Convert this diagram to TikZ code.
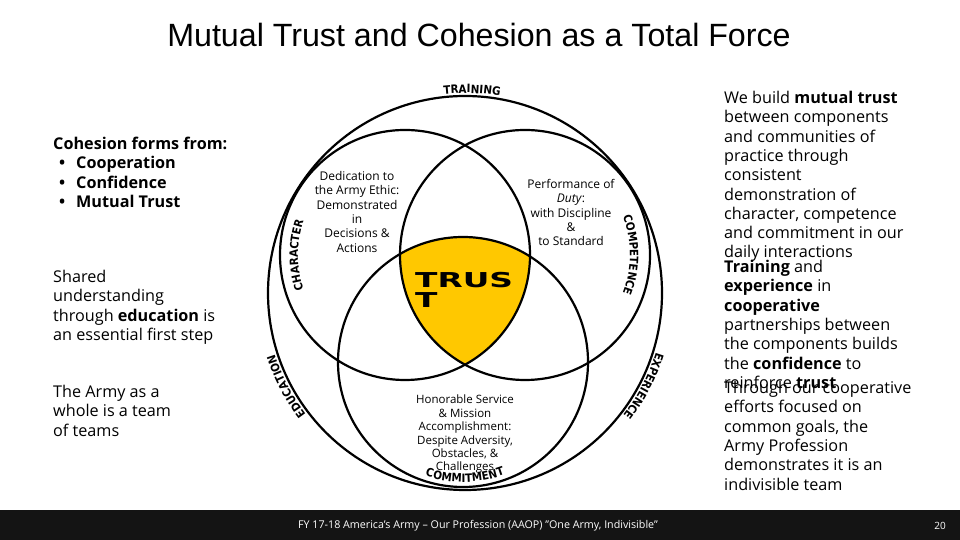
\documentclass[tikz,border=0pt]{standalone}
\usepackage{fontspec}
\setmainfont{Open Sans}
\newfontfamily\titlefont{Liberation Sans}
\newfontfamily\labelfont{DejaVu Sans Condensed}
\newfontfamily\trustfont{DejaVu Sans}
\usepackage{xcolor}
\usepackage{tikz}
\usetikzlibrary{decorations.text}
\definecolor{trustyellow}{RGB}{255,200,0}
\definecolor{footerbg}{RGB}{20,20,20}
\newcommand{\circlabel}{\labelfont\bfseries\fontsize{11.5}{11.5}\selectfont}
\newcommand{\cohitem}[1]{\makebox[23pt][l]{\hspace*{6pt}•}#1}

\begin{document}
\begin{tikzpicture}[x=1pt, y=1pt,
  ring/.style={draw, line width=2.2pt},
  bodytext/.style={font=\fontsize{16.2}{19.3}\selectfont, align=left, anchor=north west, inner sep=0pt},
  innertext/.style={font=\fontsize{12}{14.4}\selectfont, align=center, anchor=north, inner sep=0pt},
  arclabel/.style={decorate, decoration={text along path, text align=center, text={|\circlabel|#1}}}
]
\fill[white] (0,0) rectangle (960,540);
\useasboundingbox (0,0) rectangle (960,540);

\node[font=\titlefont\fontsize{32.2}{36}\selectfont] (title) at (479,505) {Mutual Trust and Cohesion as a Total Force};

\coordinate (outer) at (465,247);
\coordinate (charc) at (405,285);
\coordinate (compc) at (525,285);
\coordinate (commc) at (463,178);

\begin{scope}
  \clip (charc) circle[radius=125];
  \clip (compc) circle[radius=125];
  \fill[trustyellow] (commc) circle[radius=125];
\end{scope}
\draw[ring] (outer) circle[radius=197];
\draw[ring] (charc) circle[radius=125];
\draw[ring] (compc) circle[radius=125];
\draw[ring] (commc) circle[radius=125];

\path[arclabel=TRAINING] (outer) ++(105:200) arc[start angle=105, end angle=71, radius=200];
\path[arclabel=EDUCATION] (outer) ++(232:200) arc[start angle=232, end angle=183, radius=200];
\path[arclabel=EXPERIENCE] (outer) ++(-3:200) arc[start angle=-3, end angle=-52, radius=200];
\path[arclabel=CHARACTER] (charc) ++(205:107) arc[start angle=205, end angle=155, radius=107];
\path[arclabel=COMPETENCE] (compc) ++(25:105) arc[start angle=25, end angle=-25, radius=105];
\path[arclabel=COMMITMENT] (commc) ++(245:120) arc[start angle=245, end angle=297, radius=120];

\node[innertext] (ethic) at (357,369) {Dedication to\\the Army Ethic:\\Demonstrated\\in\\Decisions \&\\Actions};
\node[innertext] (duty) at (571,361) {Performance of\\\textit{Duty}:\\with Discipline\\\&\\to Standard};
\node[innertext, font=\fontsize{11.5}{13.4}\selectfont] (service) at (465,145) {Honorable Service\\\& Mission\\Accomplishment:\\Despite Adversity,\\Obstacles, \&\\Challenges};
\node[font=\trustfont\bfseries\fontsize{20.5}{20}\selectfont, align=left, anchor=north west, inner sep=0pt] (trust) at (415,268) {\scalebox{1.6}[1]{TRUS}\\\scalebox{1.6}[1]{T}};

\node[bodytext, font=\bfseries\fontsize{16.2}{19.3}\selectfont] (cohesion) at (53,403) {Cohesion forms from:\\\cohitem{Cooperation}\\\cohitem{Confidence}\\\cohitem{Mutual Trust}};
\node[bodytext] (shared) at (53,270) {Shared\\understanding\\through \textbf{education} is\\an essential first step};
\node[bodytext] (teams) at (53,155) {The Army as a\\whole is a team\\of teams};

\node[bodytext] (build) at (724,449) {We build \textbf{mutual trust}\\between components\\and communities of\\practice through\\consistent\\demonstration of\\character, competence\\and commitment in our\\daily interactions};
\node[bodytext] (training) at (724,280) {\textbf{Training} and\\\textbf{experience} in\\\textbf{cooperative}\\partnerships between\\the components builds\\the \textbf{confidence} to\\reinforce \textbf{trust}};
\node[bodytext] (through) at (724,159) {Through our cooperative\\efforts focused on\\common goals, the\\Army Profession\\demonstrates it is an\\indivisible team};

\fill[footerbg] (0,0) rectangle (960,30);
\node[text=white, font=\fontsize{10.7}{12}\selectfont] (footer) at (478,14) {FY 17-18 America's Army -- Our Profession (AAOP) "One Army, Indivisible"};
\node[text=white, font=\fontsize{10}{12}\selectfont] (page) at (940,14) {20};
\end{tikzpicture}
\end{document}
